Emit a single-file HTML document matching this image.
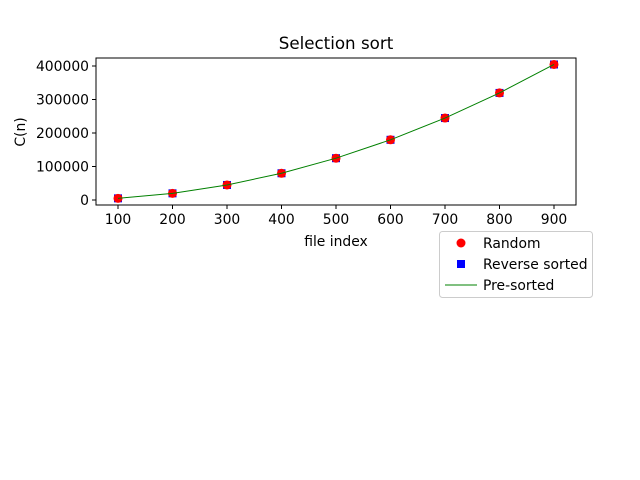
<!DOCTYPE html>
<html><head><meta charset="utf-8"><style>
body{margin:0;background:#fff;}
svg{display:block;font-family:"DejaVu Sans","Liberation Sans",sans-serif;}
</style></head><body>
<svg id="chart" width="640" height="480">
<rect width="640" height="480" fill="#fff"/>
<text x="336" y="49" font-size="16.7" text-anchor="middle">Selection sort</text>
<g id="plot"></g>
<rect x="96" y="58" width="480" height="147" fill="none" stroke="#000" stroke-width="1"/>
<text x="336" y="246" font-size="13.9" text-anchor="middle">file index</text>
<text x="25" y="132" font-size="13.9" text-anchor="middle" transform="rotate(-90 25 132)">C(n)</text>
<g>
<rect x="439.5" y="231.5" width="153" height="66" rx="3" fill="#fff" stroke="#ccc"/>
<g><circle cx="461" cy="243" r="4.5" fill="red"/><text x="483" y="248" font-size="13.9">Random</text></g>
<g><rect x="457" y="260" width="8" height="8" fill="blue"/><text x="483" y="269" font-size="13.9">Reverse sorted</text></g>
<g><line x1="445" y1="285" x2="477" y2="285" stroke="green" stroke-width="1"/><text x="483" y="290" font-size="13.9">Pre-sorted</text></g>
</g>
</svg>
<script>
const categories=[100,200,300,400,500,600,700,800,900];
const randomVals=[4950,19900,44850,79800,124750,179700,244650,319600,404550];
const reverseVals=[4950,19900,44850,79800,124750,179700,244650,319600,404550];
const presortedVals=[4950,19900,44850,79800,124750,179700,244650,319600,404550];
const yTicks=[0,100000,200000,300000,400000];
const NS="http://www.w3.org/2000/svg";
const g=document.getElementById('plot');
function xs(v){return 118+(v-100)*(554-118)/800;}
function ys(v){return 200-v*134/400000;}
function mk(t,a){const e=document.createElementNS(NS,t);for(const k in a)e.setAttribute(k,a[k]);g.appendChild(e);return e;}
categories.forEach(c=>{
 const l=mk('line',{x1:xs(c),x2:xs(c),y1:205,y2:209,stroke:'#000'});
 
 
 const t=mk('text',{x:xs(c),y:224,'font-size':13.9,'text-anchor':'middle'});t.textContent=c;
 
 
});
yTicks.forEach(v=>{
 const l=mk('line',{x1:92,x2:96,y1:ys(v),y2:ys(v),stroke:'#000'});
 
 
 const t=mk('text',{x:89,y:ys(v)+5,'font-size':13.9,'text-anchor':'end'});t.textContent=v;
 
 
});
reverseVals.forEach((v,i)=>{
 const r=mk('rect',{x:xs(categories[i])-4,y:ys(v)-4,width:8,height:8,fill:'blue'});
 
 
});
randomVals.forEach((v,i)=>{
 const c=mk('circle',{cx:xs(categories[i]),cy:ys(v),r:4.5,fill:'red'});
 
 
});
const p=mk('polyline',{points:presortedVals.map((v,i)=>xs(categories[i])+','+ys(v)).join(' '),fill:'none',stroke:'green','stroke-width':1});


</script>
</body></html>
